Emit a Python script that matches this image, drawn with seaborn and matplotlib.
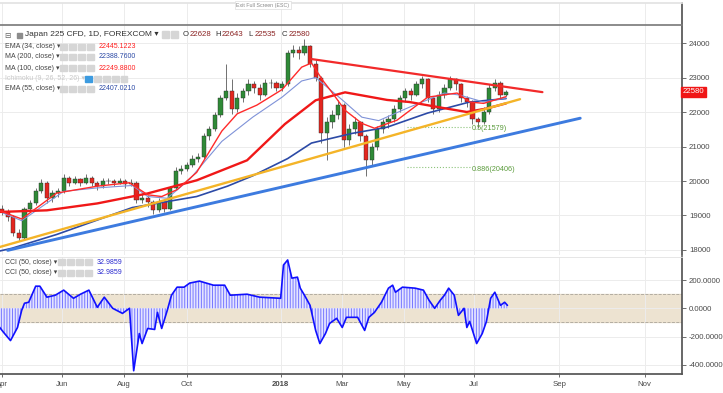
import matplotlib
matplotlib.use("Agg")
import matplotlib.pyplot as plt
import matplotlib.transforms as mtransforms
from matplotlib.patches import Rectangle
import numpy as np
import pandas as pd
import seaborn as sns

# x unit = trading session counted from start of Apr 2017; one candle every 4 sessions
bar_idx = list(range(0, 361, 4))
first_open = 19200
closes = [19100, 18950, 18500, 18350, 19200, 19350, 19700, 19950, 19500, 19650,
          19700, 20100, 19950, 20050, 19950, 20100, 19950, 19850, 20000, 20000,
          19950, 20000, 19900, 19950, 19450, 19500, 19400, 19150, 19400, 19200,
          19800, 20300, 20350, 20450, 20650, 20700, 21300, 21500, 21900, 22400,
          22600, 22100, 22400, 22600, 22800, 22700, 22500, 22850, 22850, 22700,
          22800, 23700, 23800, 23700, 23900, 23400, 23000, 21400, 21700, 21900,
          22200, 21200, 21500, 21700, 21300, 20600, 21000, 21500, 21700, 21800,
          22100, 22400, 22600, 22500, 22800, 22950, 22400, 22100, 22500, 22700,
          22950, 22800, 22400, 22300, 21800, 21700, 22000, 22700, 22850, 22500,
          22580]
highs = [19300, 19200, 19000, 18600, 19250, 19450, 19800, 20050, 20000, 19750,
         19800, 20200, 20150, 20150, 20100, 20200, 20150, 20000, 20100, 20100,
         20050, 20100, 20050, 20050, 20000, 19650, 19600, 19450, 19500, 19450,
         19850, 20400, 20450, 20550, 20750, 20800, 21400, 21600, 22000, 22500,
         23400, 22950, 22550, 22700, 22950, 22900, 22800, 22950, 22950, 22900,
         22900, 23800, 23950, 23900, 24120, 23950, 23500, 23050, 21850, 22050,
         22350, 22250, 21650, 21850, 21750, 21350, 21100, 21600, 21800, 21900,
         22200, 22500, 22700, 22700, 22900, 23050, 23000, 22450, 22600, 22800,
         23050, 23000, 22850, 22450, 22350, 21850, 22150, 22800, 22950, 22900,
         22643]
lows = [19000, 18850, 18400, 18250, 18300, 19100, 19300, 19650, 19350, 19400,
        19550, 19650, 19850, 19900, 19850, 19900, 19850, 19750, 19800, 19900,
        19850, 19900, 19800, 19850, 19350, 19350, 19250, 19050, 19100, 19100,
        19150, 19750, 20200, 20300, 20400, 20550, 20650, 21200, 21450, 21850,
        22350, 21950, 22000, 22300, 22500, 22550, 22350, 22450, 22700, 22600,
        22600, 22750, 23600, 23550, 23650, 23300, 22900, 21100, 20600, 21550,
        21800, 21000, 21050, 21350, 21150, 20150, 20450, 20900, 21400, 21550,
        21700, 22000, 22300, 22350, 22450, 22700, 22300, 21950, 22000, 22400,
        22650, 22650, 22300, 22150, 21650, 21550, 21650, 21950, 22600, 22400,
        22450]
opens = [first_open] + closes[:-1]

# moving averages
ema34_x = [-4, 14, 29, 39, 68, 91, 104, 114, 125, 139, 157, 168, 182, 200, 214, 221,
           229, 236, 245, 257, 266, 282, 304, 325, 334, 344, 360]
ema34_y = [19170, 18900, 19350, 19650, 19850, 19950, 19600, 19550, 19750, 20250, 21450,
           21950, 22200, 22650, 23300, 23420, 22920, 22550, 22050, 21670, 21530, 21760,
           22430, 22550, 22290, 22250, 22445]
ema55_x = [-4, 14, 44, 68, 93, 104, 118, 134, 157, 179, 200, 214, 224, 243, 257, 269,
           291, 316, 327, 344, 360]
ema55_y = [19150, 18850, 19700, 19800, 19870, 19550, 19500, 20050, 21150, 21850, 22430,
           22900, 23000, 22350, 21850, 21750, 22140, 22550, 22490, 22290, 22407]
ma100_x = [-4, 32, 68, 104, 139, 175, 202, 224, 245, 275, 291, 316, 332, 346, 360]
ma100_y = [19100, 19150, 19350, 19640, 20020, 20600, 21650, 22340, 22570, 22350, 22290,
           22110, 22000, 22100, 22250]
ma200_x = [-4, 7, 39, 93, 139, 161, 179, 204, 221, 250, 275, 304, 334, 360]
ma200_y = [17950, 18050, 18450, 19230, 19550, 19850, 20150, 20650, 21100, 21380, 21560,
           21970, 22290, 22389]

# drawn trend lines
yellow_x, yellow_y = [-4, 370], [18060, 22372]
blue_x, blue_y = [4, 413], [17990, 21820]
red_x, red_y = [221, 386], [23535, 22576]

fib_levels = [21579, 20406]
fib_labels = ["0.5(21579)", "0.886(20406)"]
fib_start, fib_end = 289, 334

# CCI (50, close)
cci_idx = [-4, 1, 6, 11, 14, 16, 19, 24, 27, 32, 38, 44, 51, 56, 62, 68, 73, 79, 86, 91,
           94, 98, 100, 104, 109, 111, 114, 118, 121, 125, 130, 134, 141, 151, 159, 163,
           175, 184, 199, 201, 204, 207, 211, 213, 216, 220, 224, 227, 231, 234, 239, 243,
           246, 254, 259, 262, 266, 271, 276, 279, 281, 286, 295, 301, 305, 309, 313, 316,
           319, 323, 326, 330, 332, 334, 339, 343, 346, 349, 352, 356, 359, 361]
cci_val = [-107, -170, -229, -136, -14, 36, 43, 157, 157, 79, 93, 129, 71, 100, 129, 7,
           79, 0, -36, 0, -443, -179, -250, -143, -150, -29, -143, -14, 93, 150, 150, 179,
           193, 164, 164, 93, 100, 79, 71, 307, 343, 214, 221, 143, 93, 21, -157, -250,
           -179, -107, -71, -136, -64, -64, -157, -64, -29, 43, 143, 164, 114, 150, 143,
           129, 57, 0, 57, 93, 143, 93, -50, 0, -136, -93, -250, -179, -93, 71, 114, 21,
           43, 21]

tick_pos = [0, 43, 87, 132, 199, 243, 287, 337, 398, 459]
tick_lab = ["Apr", "Jun", "Aug", "Oct", "2018", "Mar", "May", "Jul", "Sep", "Nov"]
price_ticks = [18000, 19000, 20000, 21000, 22000, 23000, 24000]
cci_ticks = [200, 0, -200, -400]

sns.set_theme(style="white")
plt.rcParams['font.family'] = ['Liberation Sans', 'DejaVu Sans']
plt.rcParams['hatch.linewidth'] = 0.7

W, H = 723, 393
fig = plt.figure(figsize=(W / 100, H / 100), dpi=100)
fig.patch.set_facecolor("white")
XL = (-1.5, 485.7)
GRID = "#ececec"
AX = "#555555"

# empty strip on top
ax0 = fig.add_axes([0, 1 - 25 / H, 682 / W, 22 / H])
ax0.set_xlim(*XL)
ax0.set_xticks(tick_pos)
ax0.set_yticks([])
ax0.tick_params(bottom=False, labelbottom=False)
ax0.grid(True, axis="x", color=GRID, lw=0.7)
for s in ["left", "bottom"]:
    ax0.spines[s].set_visible(False)
ax0.spines["top"].set_color("#e3e3e3")
ax0.spines["right"].set_color(AX)

# main price panel
ax = fig.add_axes([0, 1 - 255 / H, 682 / W, 230 / H])
ax.set_xlim(*XL)
ax.set_ylim(17855, 24522)
ax.set_xticks(tick_pos)
ax.set_yticks(price_ticks)
ax.yaxis.tick_right()
ax.tick_params(axis="x", bottom=False, labelbottom=False)
ax.tick_params(axis="y", right=True, length=3, width=0.6, color=AX, pad=2,
               labelsize=5.6, labelcolor="#4a4a4a")
ax.grid(True, color=GRID, lw=0.7)
ax.spines["left"].set_visible(False)
ax.spines["bottom"].set_visible(False)
ax.spines["top"].set_color("#7d7d7d")
ax.spines["right"].set_color(AX)

up = [c >= o for o, c in zip(opens, closes)]
body_lo = [min(o, c) for o, c in zip(opens, closes)]
body_h = [abs(c - o) for o, c in zip(opens, closes)]
ax.vlines(bar_idx, lows, highs, color="#5a5a5a", lw=0.6, zorder=3)
ax.bar(bar_idx, body_h, bottom=body_lo, width=3.0,
       color=["#2f8a37" if u else "#e4261f" for u in up],
       edgecolor="#2b2b2b", linewidth=0.3, zorder=4)

sns.lineplot(x=ma200_x, y=ma200_y, ax=ax, color="#2c4aa6", lw=1.2, estimator=None, sort=False, zorder=5)
sns.lineplot(x=ema55_x, y=ema55_y, ax=ax, color="#7f92d8", lw=0.8, estimator=None, sort=False, zorder=5)
sns.lineplot(x=ma100_x, y=ma100_y, ax=ax, color="#f01818", lw=1.7, estimator=None, sort=False, zorder=5)
sns.lineplot(x=ema34_x, y=ema34_y, ax=ax, color="#ff2a2a", lw=1.0, estimator=None, sort=False, zorder=5)
ax.plot(yellow_x, yellow_y, color="#f4b428", lw=1.7, zorder=6)
ax.plot(blue_x, blue_y, color="#3d7bdf", lw=2.1, zorder=6)
ax.plot(red_x, red_y, color="#f22a2a", lw=1.6, zorder=6)

for lvl, lab in zip(fib_levels, fib_labels):
    ax.hlines(lvl, fib_start, fib_end, colors="#8cc37a", linestyles=":", lw=0.8, zorder=5)
    ax.text(fib_end + 1.5, lvl - 60, lab, color="#5a9b3b", fontsize=5.2, va="center", zorder=7)

tr = mtransforms.blended_transform_factory(ax.transAxes, ax.transData)
ax.text(1.001, closes[-1], str(closes[-1]), transform=tr, color="white", fontsize=5.6,
        va="center", ha="left", clip_on=False, zorder=8,
        bbox=dict(boxstyle="square,pad=0.25", fc="#f01616", ec="#f01616"))

# CCI panel
ax2 = fig.add_axes([0, 1 - 374 / H, 682 / W, 117 / H])
ax2.set_xlim(*XL)
ax2.set_ylim(-466, 364)
ax2.axhspan(-100, 100, color="#ede3d1", zorder=0)
for lvl in (100, -100):
    ax2.axhline(lvl, ls="--", color="#aaa49a", lw=0.6, zorder=1)
ax2.fill_between(cci_idx, cci_val, 0, facecolor="#e4e4ff", edgecolor="#7777ff",
                 hatch="||||||", linewidth=0, zorder=2)
sns.lineplot(x=cci_idx, y=cci_val, ax=ax2, color="#1010ff", lw=1.2, estimator=None, sort=False, zorder=3)
ax2.set_yticks(cci_ticks)
ax2.set_yticklabels([f"{v:.4f}" for v in cci_ticks])
ax2.yaxis.tick_right()
ax2.tick_params(axis="y", right=True, length=3, width=0.6, color=AX, pad=2,
                labelsize=5.6, labelcolor="#4a4a4a")
ax2.set_xticks(tick_pos)
ax2.set_xticklabels(tick_lab)
ax2.tick_params(axis="x", bottom=True, length=2, width=0.6, color=AX, pad=3,
                labelsize=5.6, labelcolor="#4a4a4a")
ax2.get_xticklabels()[4].set_fontweight("bold")
ax2.grid(True, color=GRID, lw=0.7)
ax2.spines["left"].set_visible(False)
ax2.spines["top"].set_color("#e2e2e2")
ax2.spines["top"].set_linewidth(0.6)
ax2.spines["right"].set_color(AX)
ax2.spines["bottom"].set_color(AX)
ax2.set_xlabel("")
ax2.set_ylabel("")
ax.set_xlabel("")
ax.set_ylabel("")


def ftext(x, y, s, **kw):
    fig.text(x / W, 1 - y / H, s, va="center", **kw)


def icons(x0, y, n, first_color="#d6d6d6"):
    for i in range(n):
        c = first_color if i == 0 else "#d6d6d6"
        fig.add_artist(Rectangle(((x0 + i * 9) / W, 1 - (y + 3) / H), 6.5 / W, 6.5 / H,
                                 transform=fig.transFigure, color=c, zorder=10))


# legend block
ftext(4, 35, "⊟", fontsize=5.5, color="#666666", family=["DejaVu Sans"])
fig.add_artist(Rectangle((17 / W, 1 - 37.5 / H), 4.5 / W, 5 / H, transform=fig.transFigure,
                         color="#8c8c8c", zorder=10))
ftext(25, 35, "Japan 225 CFD, 1D, FOREXCOM ▾", fontsize=6.0, color="#333333")
icons(162, 35, 2)
for x0, lab, val in [(183, "O", "22628"), (215, "H", "22643"), (248, "L", "22535"), (282, "C", "22580")]:
    ftext(x0, 35, lab, fontsize=5.6, color="#333333")
    ftext(x0 + 6.5, 35, val, fontsize=5.6, color="#8b2323")

rows = [(47, "EMA (34, close) ▾", "22445.1223", "#ff2020"),
        (57, "MA (200, close) ▾", "22388.7600", "#2c4aa6"),
        (68, "MA (100, close) ▾", "22249.8800", "#ff2020"),
        (89, "EMA (55, close) ▾", "22407.0210", "#2c4aa6")]
for y, lab, val, col in rows:
    ftext(5, y, lab, fontsize=5.0, color="#444444")
    icons(60, y, 4)
    ftext(99, y, val, fontsize=5.0, color=col)
ftext(5, 79, "Ichimoku (9, 26, 52, 26) ▾", fontsize=5.0, color="#c9c9c9")
icons(85, 79, 5, first_color="#3c9be0")

for y in (262, 273):
    ftext(5, y, "CCI (50, close) ▾", fontsize=5.0, color="#444444")
    icons(58, y, 4)
    ftext(97, y, "32.9859", fontsize=5.0, color="#2a2ad0")

ftext(263, 5, "Exit Full Screen (ESC)", fontsize=3.8, color="#888888", ha="center",
      bbox=dict(boxstyle="square,pad=0.3", fc="white", ec="#dddddd", lw=0.5))

fig.savefig("out.png", dpi=100, facecolor="white")
